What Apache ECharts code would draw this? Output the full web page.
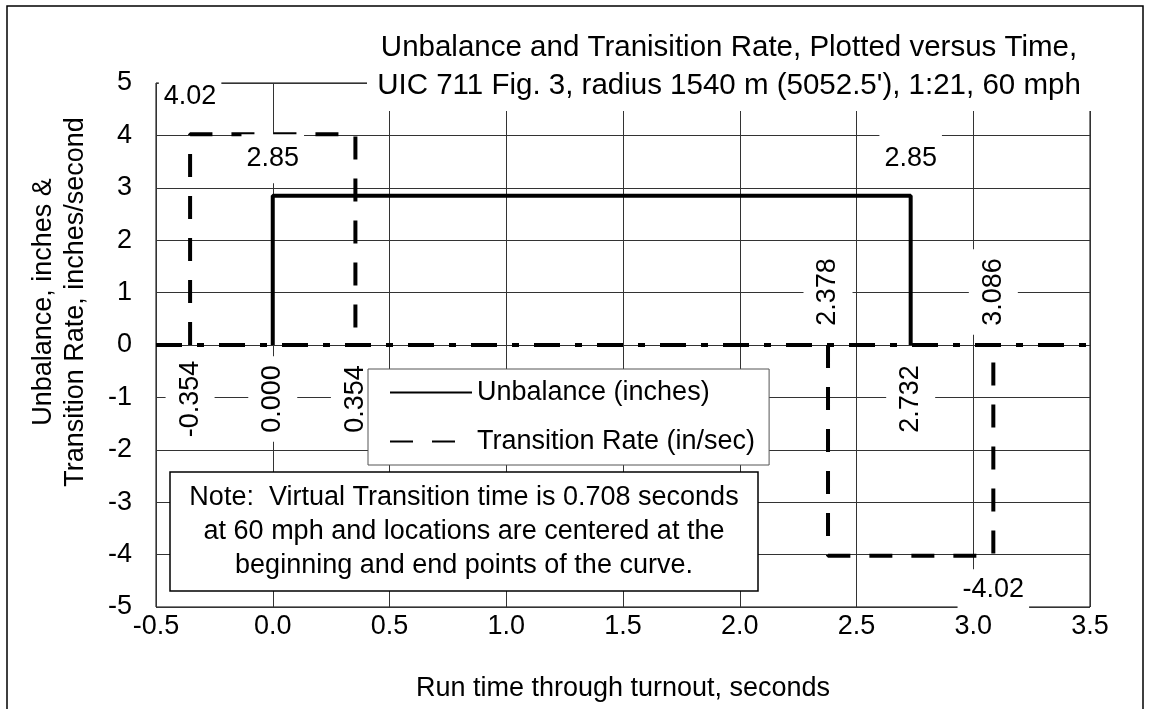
<!DOCTYPE html>
<html>
<head>
<meta charset="utf-8">
<script src="https://cdn.jsdelivr.net/npm/echarts@6/dist/echarts.min.js"></script>
<style>
  html, body { margin: 0; padding: 0; background: #fff; }
  #chart { width: 1150px; height: 709px; }
</style>
</head>
<body>
<div id="chart"></div>
<script>
// ---- data ----
const unbalanceTime  = [0.000, 0.000, 2.732, 2.732];
const unbalanceValue = [0, 2.85, 2.85, 0];
const rateEntryTime  = [-0.354, -0.354, 0.354, 0.354];
const rateEntryValue = [0, 4.02, 4.02, 0];
const rateExitTime   = [2.378, 2.378, 3.086, 3.086];
const rateExitValue  = [0, -4.02, -4.02, 0];
const zeroLineTime   = [-0.5, -0.354, 0.000, 0.354, 2.378, 2.732, 3.086, 3.5];
const zeroLineValue  = [0, 0, 0, 0, 0, 0, 0, 0];
const timesLabelledBelow = [-0.354, 0.000, 0.354, 2.732];
const timesLabelledAbove = [2.378, 3.086];
const titleLines = ['Unbalance and Tranisition Rate, Plotted versus Time,',
                    "UIC 711 Fig. 3, radius 1540 m (5052.5'), 1:21, 60 mph"];
const noteLines = ['Note:  Virtual Transition time is 0.708 seconds',
                   'at 60 mph and locations are centered at the',
                   'beginning and end points of the curve.'];
const xAxisName = 'Run time through turnout, seconds';
const yAxisNameLines = ['Unbalance, inches &', 'Transition Rate, inches/second'];
const seriesNames = ['Unbalance (inches)', 'Transition Rate (in/sec)'];

const FONT = "'Liberation Sans', Arial, sans-serif";
const FS = 27;
const zip = (xs, ys) => xs.map((x, i) => [x, ys[i]]);

// annotation labels (value + time labels), anchored on data points
// [x, y, text, pixel shift, rotated, vertical padding]
const annotations = [];
annotations.push([rateEntryTime[1], rateEntryValue[1], rateEntryValue[1].toFixed(2), -38, 0, 11]);
annotations.push([unbalanceTime[1], unbalanceValue[1], unbalanceValue[1].toFixed(2), -37, 0, 11]);
annotations.push([unbalanceTime[2], unbalanceValue[2], unbalanceValue[2].toFixed(2), -37, 0, 11]);
annotations.push([rateExitTime[2], rateExitValue[2], rateExitValue[2].toFixed(2), 34, 0, 7]);
timesLabelledBelow.forEach(t => annotations.push([t, 0, t.toFixed(3), 54, 1, 11]));
timesLabelledAbove.forEach(t => annotations.push([t, 0, t.toFixed(3), -53, 1, 11]));

const chart = echarts.init(document.getElementById('chart'), null, { renderer: 'canvas' });

const lineBase = { type: 'line', symbol: 'none', showSymbol: false, animation: false, z: 3, color: '#000', itemStyle: { color: '#000' } };

chart.setOption({
  animation: false,
  backgroundColor: '#fff',
  color: ['#000'],
  textStyle: { fontFamily: FONT },
  grid: { left: 156, right: 60, top: 83, bottom: 102, show: true, borderColor: '#000', borderWidth: 1, containLabel: false },
  xAxis: {
    type: 'value', min: -0.5, max: 3.5, interval: 0.5,
    axisLine: { show: false }, axisTick: { show: false },
    axisLabel: { fontSize: FS, color: '#000', fontFamily: FONT, margin: 6, formatter: v => v.toFixed(1) },
    splitLine: { show: true, lineStyle: { color: '#333', width: 1 } }
  },
  yAxis: {
    type: 'value', min: -5, max: 5, interval: 1,
    axisLine: { show: false }, axisTick: { show: false },
    axisLabel: { fontSize: FS, color: '#000', fontFamily: FONT, margin: 24 },
    splitLine: { show: true, lineStyle: { color: '#333', width: 1 } }
  },
  legend: {
    data: seriesNames,
    orient: 'vertical', left: 368, top: 369,
    backgroundColor: '#fff', borderColor: '#555', borderWidth: 1,
    padding: [10, 14, 10, 21], itemGap: 22, itemWidth: 82, itemHeight: 14,
    itemStyle: { opacity: 0 },
    textStyle: { fontSize: FS, color: '#000', fontFamily: FONT },
    z: 20
  },
  series: [
    Object.assign({}, lineBase, {
      name: 'zero', data: zip(zeroLineTime, zeroLineValue),
      lineStyle: { color: '#000', width: 4, type: [26, 15, 7, 15] }, z: 2
    }),
    Object.assign({}, lineBase, {
      name: seriesNames[0], data: zip(unbalanceTime, unbalanceValue),
      lineStyle: { color: '#000', width: 4, type: 'solid' }
    }),
    Object.assign({}, lineBase, {
      name: seriesNames[1], data: zip(rateEntryTime, rateEntryValue),
      lineStyle: { color: '#000', width: 4, type: [23, 19] }
    }),
    Object.assign({}, lineBase, {
      name: seriesNames[1], data: zip(rateExitTime, rateExitValue),
      lineStyle: { color: '#000', width: 4, type: [23, 19] }
    }),
    {
      type: 'custom', name: 'annotations', clip: false, z: 10, silent: true,
      data: annotations,
      renderItem: function (params, api) {
        const p = api.coord([api.value(0), api.value(1)]);
        const item = annotations[params.dataIndex];
        const rot = item[4];
        return {
          type: 'text',
          x: p[0], y: p[1] + item[3],
          rotation: rot ? Math.PI / 2 : 0,
          style: {
            text: item[2], fill: '#000', font: FS + 'px ' + FONT,
            align: 'center', verticalAlign: 'middle',
            backgroundColor: '#fff', padding: rot ? [11, 9] : [item[5], 5]
          }
        };
      }
    }
  ],
  graphic: [
    { type: 'rect', z: -10, shape: { x: 7, y: 6, width: 1136, height: 720 },
      style: { fill: 'none', stroke: '#000', lineWidth: 1.5 } },
    { type: 'rect', z: 50, shape: { x: 367, y: 24, width: 726, height: 87 },
      style: { fill: '#fff' } },
    { type: 'text', z: 51, x: 729, y: 48,
      style: { text: titleLines[0], font: '29.5px ' + FONT, fill: '#000', align: 'center', verticalAlign: 'middle' } },
    { type: 'text', z: 51, x: 729, y: 86,
      style: { text: titleLines[1], font: '29.5px ' + FONT, fill: '#000', align: 'center', verticalAlign: 'middle' } },
    { type: 'rect', z: 50, shape: { x: 170, y: 472, width: 588, height: 119 },
      style: { fill: '#fff', stroke: '#000', lineWidth: 1.5 } },
    { type: 'text', z: 51, x: 464, y: 498,
      style: { text: noteLines[0], font: FS + 'px ' + FONT, fill: '#000', align: 'center', verticalAlign: 'middle' } },
    { type: 'text', z: 51, x: 464, y: 532,
      style: { text: noteLines[1], font: FS + 'px ' + FONT, fill: '#000', align: 'center', verticalAlign: 'middle' } },
    { type: 'text', z: 51, x: 464, y: 566,
      style: { text: noteLines[2], font: FS + 'px ' + FONT, fill: '#000', align: 'center', verticalAlign: 'middle' } },
    { type: 'text', z: 51, x: 623, y: 689,
      style: { text: xAxisName, font: FS + 'px ' + FONT, fill: '#000', align: 'center', verticalAlign: 'middle' } },
    { type: 'text', z: 51, x: 60, y: 302, rotation: Math.PI / 2,
      style: { text: yAxisNameLines.join('\n'), font: FS + 'px ' + FONT, lineHeight: 32, fill: '#000', align: 'center', verticalAlign: 'middle' } }
  ]
});
</script>
</body>
</html>
